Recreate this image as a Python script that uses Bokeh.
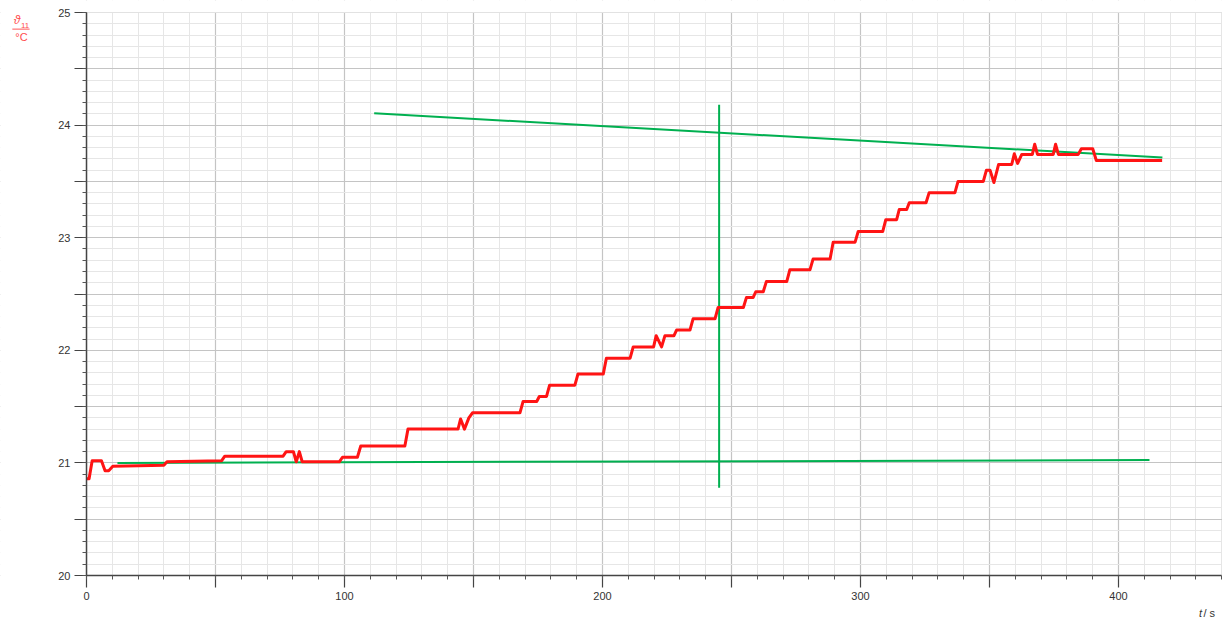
from bokeh.plotting import figure
from bokeh.models import (Range1d, SingleIntervalTicker, CustomJSTickFormatter,
                          Label, PolyAnnotation, BoxAnnotation)
from bokeh.embed import file_html
from bokeh.resources import INLINE

# ---- data ----
t_red = [0, 1.0, 2.2, 5.8, 7.2, 8.6, 10.2, 30.0, 31.2, 52.4, 53.6, 76.2, 77.4, 80.2,
         81.3, 82.5, 83.6, 98.0, 99.2, 105.0, 106.3, 123.4, 124.6, 144.0, 145.0,
         146.5, 148.2, 149.6, 168.0, 169.2, 174.5, 175.5, 178.3, 179.5, 189.3,
         190.5, 200.3, 201.5, 210.7, 211.9, 219.8, 220.8, 222.9, 224.2, 227.7,
         228.7, 233.9, 235.1, 243.6, 244.8, 254.6, 255.8, 258.4, 259.4, 262.3,
         263.5, 271.4, 272.6, 280.4, 281.6, 288.2, 289.4, 297.9, 299.1, 308.6,
         309.8, 314.0, 315.0, 317.9, 318.9, 325.4, 326.6, 336.6, 337.8, 347.6,
         348.8, 350.2, 351.7, 353.5, 358.6, 359.6, 360.9, 362.5, 366.6, 367.5,
         368.6, 374.7, 375.6, 376.7, 384.4, 385.6, 390.0, 391.4, 416.9]
theta_red = [20.86, 20.86, 21.02, 21.02, 20.93, 20.93, 20.97, 20.98, 21.01, 21.02,
             21.06, 21.06, 21.10, 21.10, 21.01, 21.10, 21.01, 21.01, 21.05, 21.05,
             21.15, 21.15, 21.30, 21.30, 21.39, 21.30, 21.40, 21.445, 21.445,
             21.545, 21.545, 21.59, 21.59, 21.69, 21.69, 21.79, 21.79, 21.93,
             21.93, 22.03, 22.03, 22.13, 22.03, 22.13, 22.13, 22.18, 22.18, 22.28,
             22.28, 22.38, 22.38, 22.47, 22.47, 22.52, 22.52, 22.61, 22.61,
             22.715, 22.715, 22.81, 22.81, 22.96, 22.96, 23.055, 23.055, 23.16,
             23.16, 23.25, 23.25, 23.31, 23.31, 23.40, 23.40, 23.50, 23.50, 23.60,
             23.60, 23.49, 23.65, 23.65, 23.745, 23.66, 23.74, 23.74, 23.83, 23.74,
             23.74, 23.83, 23.74, 23.74, 23.79, 23.79, 23.686, 23.686]

low_t = [12, 412]
low_theta = [21.0, 21.025]
up_t = [111.5, 417]
up_theta = [24.105, 23.712]
vert_t = [245.2, 245.2]
vert_theta = [24.18, 20.78]

t_axis = (0, 440)
theta_axis = (20, 25)

RED = "#ff1414"
GREEN = "#00b050"
LABEL_RED = "#ff4d4d"
AX = "#444444"

p = figure(width=1222, height=622, output_backend="svg", toolbar_location=None,
           x_range=Range1d(-33.33, 440.3), y_range=Range1d(19.5826, 25.1066),
           min_border_left=0, min_border_right=0, min_border_top=0,
           min_border_bottom=0, background_fill_color="white",
           border_fill_color="white")
p.outline_line_color = None

xt = SingleIntervalTicker(interval=50, num_minor_ticks=5)
yt = SingleIntervalTicker(interval=0.5, num_minor_ticks=5)
p.xaxis.ticker = xt
p.yaxis.ticker = yt
p.xgrid.ticker = xt
p.ygrid.ticker = yt

p.xaxis.fixed_location = theta_axis[0]
p.yaxis.fixed_location = t_axis[0]
p.xaxis.bounds = t_axis
p.yaxis.bounds = theta_axis

p.xaxis.formatter = CustomJSTickFormatter(
    code="return (Math.abs(tick % 100) < 1e-6) ? tick.toFixed(0) : '';")
p.yaxis.formatter = CustomJSTickFormatter(
    code="return (Math.abs(tick - Math.round(tick)) < 1e-6) ? tick.toFixed(0) : '';")

for ax in (p.xaxis, p.yaxis):
    ax.axis_line_color = AX
    ax.axis_line_width = 1.5
    ax.major_tick_line_color = AX
    ax.major_tick_line_width = 1.2
    ax.minor_tick_line_color = "#555555"
    ax.major_tick_out = 12
    ax.major_tick_in = 0
    ax.minor_tick_out = 4
    ax.minor_tick_in = 0
    ax.major_label_standoff = 4
    ax.major_label_text_font = "Liberation Sans"
    ax.major_label_text_font_size = "11px"
    ax.major_label_text_color = "#333333"

for g in (p.xgrid, p.ygrid):
    g.grid_line_color = "#c4c4c4"
    g.grid_line_width = 1.2
    g.minor_grid_line_color = "#e6e6e6"
    g.minor_grid_line_width = 1

# white masks so the grid only fills the axes' rectangle
for kw in (dict(right=t_axis[0]), dict(top=theta_axis[0]), dict(bottom=theta_axis[1])):
    p.add_layout(BoxAnnotation(fill_color="white", fill_alpha=1, line_alpha=0,
                               level="underlay", **kw))

p.line(low_t, low_theta, line_color=GREEN, line_width=2)
p.line(up_t, up_theta, line_color=GREEN, line_width=2)
p.line(vert_t, vert_theta, line_color=GREEN, line_width=2)
p.line(t_red, theta_red, line_color=RED, line_width=3, line_join="round")

# y quantity label (fraction) at top left
p.add_layout(Label(x=-26.9, y=24.929, text="ϑ", text_font="Liberation Sans",
                   text_font_style="italic", text_font_size="12px",
                   text_color=LABEL_RED, text_align="center",
                   text_baseline="middle"))
p.add_layout(Label(x=-25.4, y=24.886, text="11", text_font="Liberation Sans",
                   text_font_size="8px", text_color=LABEL_RED,
                   text_align="left", text_baseline="middle"))
p.add_layout(PolyAnnotation(xs=[-28.7, -22.1, -22.1, -28.7],
                            ys=[24.856, 24.856, 24.850, 24.850],
                            fill_color=LABEL_RED, fill_alpha=1,
                            line_color=LABEL_RED, line_width=0.5))
p.add_layout(Label(x=-25.2, y=24.782, text="°C", text_font="Liberation Sans",
                   text_font_size="11px", text_color=LABEL_RED,
                   text_align="center", text_baseline="middle"))

# x quantity label at bottom right
p.add_layout(Label(x=432.4, y=19.668, text="t", text_font="Liberation Sans",
                   text_font_style="italic", text_font_size="11px",
                   text_color="#333333", text_align="right",
                   text_baseline="middle"))
p.add_layout(Label(x=432.9, y=19.668, text="/ s", text_font="Liberation Sans",
                   text_font_size="11px", text_color="#333333",
                   text_align="left", text_baseline="middle"))

open("out.html", "w").write(file_html(p, INLINE))
